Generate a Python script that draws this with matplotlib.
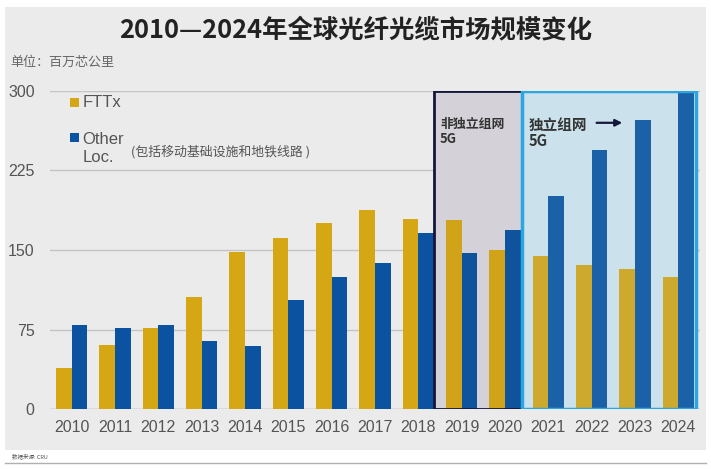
import numpy as np
import matplotlib.pyplot as plt
from matplotlib.patches import Rectangle, FancyArrowPatch

plt.rcParams['font.family'] = ['Liberation Sans', 'Noto Sans CJK SC', 'DejaVu Sans']

# data (million fibre-km)
years = ['2010', '2011', '2012', '2013', '2014', '2015', '2016', '2017',
         '2018', '2019', '2020', '2021', '2022', '2023', '2024']
fttx = [39, 60, 76, 106, 148, 161, 175, 188, 179, 178, 150, 144, 136, 132, 125]
other = [79, 76, 79, 64, 59, 103, 125, 138, 166, 147, 169, 201, 244, 273, 300]
yticks = [0, 75, 150, 225, 300]

c_fttx = '#d6a714'
c_other = '#0b53a0'
grey_txt = '#555555'

fig = plt.figure(figsize=(7.11, 4.69), dpi=100)
fig.patch.set_facecolor('white')

# grey panel behind everything
fig.add_artist(Rectangle((5/711, 1-450/469), 701/711, 443/469,
                         transform=fig.transFigure, facecolor='#ebebeb',
                         edgecolor='none', zorder=0))
fig.add_artist(plt.Line2D([5/711, 706/711], [1-463/469, 1-463/469],
                          transform=fig.transFigure, color='#b0b0b0', lw=1))

ax = fig.add_axes([50/711, 1-409/469, 650/711, 318/469])
ax.set_facecolor('none')

x = np.arange(len(years))
w = 0.36

# 5G shaded boxes: fill behind bars, light tint over them, then the frame
ax.add_patch(Rectangle((8.36, 0), 2.04, 300, facecolor='#dbd8de',
                       edgecolor='none', zorder=1.5))
ax.add_patch(Rectangle((10.4, 0), 4.0, 300, facecolor='#d4e5ed',
                       edgecolor='none', zorder=1.5))

ax.bar(x - w/2, fttx, w, color=c_fttx, zorder=2)
ax.bar(x + w/2, other, w, color=c_other, zorder=2)

ax.add_patch(Rectangle((8.36, 0), 2.04, 300, facecolor='#6a5a70', alpha=0.05,
                       edgecolor='none', zorder=3))
ax.add_patch(Rectangle((10.4, 0), 4.0, 300, facecolor='#8fc7e6', alpha=0.12,
                       edgecolor='none', zorder=3))
ax.add_patch(Rectangle((8.36, 0), 2.04, 300, facecolor='none',
                       edgecolor='#14163a', lw=2, zorder=4))
ax.add_patch(Rectangle((10.4, 0), 4.0, 300, facecolor='none',
                       edgecolor='#2aa6e0', lw=2.5, zorder=4))

ax.set_xlim(-0.5, len(years) - 0.5)
ax.set_ylim(0, 300)
ax.set_yticks(yticks)
ax.set_xticks(x)
ax.set_xticklabels(years)
ax.yaxis.grid(True, color='#c4c4c4', lw=1, zorder=1)
ax.set_axisbelow(True)
for s in ax.spines.values():
    s.set_visible(False)
ax.tick_params(length=0, labelsize=11.5, labelcolor=grey_txt)
ax.tick_params(axis='y', pad=11)
ax.tick_params(axis='x', pad=8)
ax.axhline(0, color='#bdbdbd', lw=1, zorder=1)

# legend drawn by hand like the original
ax.add_patch(Rectangle((-0.05, 285), 0.22, 8, facecolor=c_fttx, zorder=5))
ax.text(0.25, 289, 'FTTx', fontsize=12, color=grey_txt, va='center')
ax.add_patch(Rectangle((-0.05, 252), 0.22, 8, facecolor=c_other, zorder=5))
ax.text(0.25, 254, 'Other', fontsize=12, color=grey_txt, va='center')
ax.text(0.25, 237, 'Loc.', fontsize=12, color=grey_txt, va='center')
ax.text(1.37, 243, '(包括移动基础设施和地铁线路 )', fontsize=9.3,
        color=grey_txt, va='center', family=['Noto Sans CJK SC'])

ax.text(8.5, 262, '非独立组网\n5G', fontsize=9.3, fontweight='bold',
        color='#333333', va='center', linespacing=1.1,
        family=['Noto Sans CJK SC'], zorder=6)
ax.text(10.55, 260, '独立组网\n5G', fontsize=10.5, fontweight='bold',
        color='#333333', va='center', linespacing=1.0,
        family=['Noto Sans CJK SC'], zorder=6)
ax.add_patch(FancyArrowPatch((12.05, 270), (12.77, 270), arrowstyle='-|>',
                             mutation_scale=10, color='#14163a', lw=1.6,
                             zorder=6))

fig.text(0.5, 1-30/469, '2010—2024年全球光纤光缆市场规模变化', ha='center',
         va='center', fontsize=18.3, fontweight='bold', color='#222222',
         family=['Noto Sans CJK SC'])
fig.text(10/711, 1-62/469, '单位：百万芯公里', ha='left', va='center',
         fontsize=9.4, color='#666666', family=['Noto Sans CJK SC'])
fig.text(12/711, 1-456/469, '数据来源: CRU', ha='left', va='center',
         fontsize=4, color='#555555', family=['Noto Sans CJK SC'])

fig.savefig('out.png', dpi=100)
